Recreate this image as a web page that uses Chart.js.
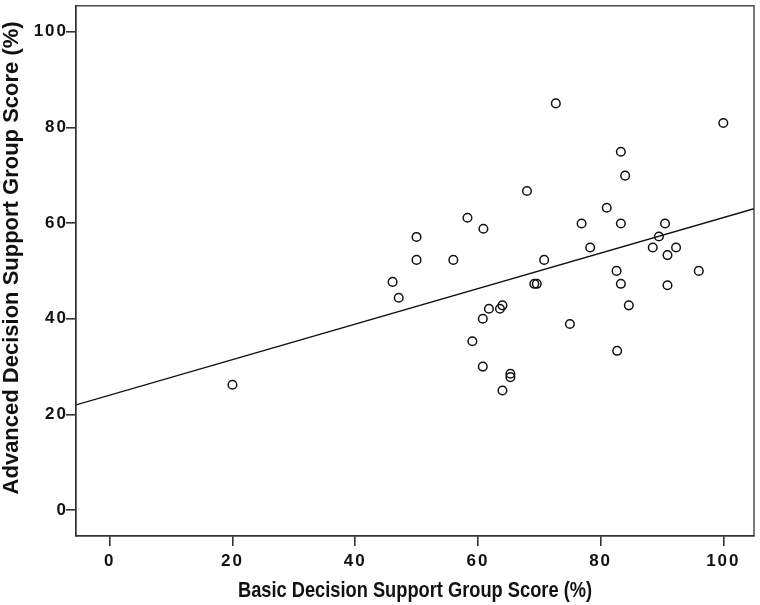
<!DOCTYPE html>
<html>
<head>
<meta charset="utf-8">
<script src="https://cdn.jsdelivr.net/npm/chart.js@4.4.1/dist/chart.umd.min.js"></script>
<style>
  html, body { margin: 0; padding: 0; background: #fff; }
  #wrap { width: 760px; height: 605px; }
</style>
</head>
<body>
<div id="wrap"><canvas id="scoreChart" width="760" height="605"></canvas></div>
<script>
// Basic vs advanced decision support group scores (%)
var basicScore = [20, 46.1, 47.1, 50, 50, 56, 58.3, 60.9, 59.1, 60.8, 60.8, 61.8, 63.6, 64.0,
    64.0, 65.3, 65.3, 68.0, 69.2, 69.6, 70.8, 72.7, 75.0, 76.9, 78.3, 81.0, 82.6, 82.7,
    83.3, 83.3, 83.3, 84.0, 84.6, 88.5, 89.5, 90.5, 90.9, 90.9, 92.3, 96.0, 100];
var advancedScore = [26.2, 47.7, 44.4, 57.1, 52.3, 52.3, 61.1, 58.8, 35.3, 40.0, 30.0, 42.1, 42.1, 42.8,
    25.0, 28.5, 27.8, 66.7, 47.3, 47.3, 52.3, 85.0, 38.9, 59.9, 54.9, 63.2, 50.0, 33.3,
    74.9, 59.9, 47.3, 69.9, 42.8, 54.9, 57.2, 59.9, 53.3, 47.0, 54.9, 50.0, 80.9];

// fit line ends, at the left and right edges of the plot
var fitX = [-5.5, 105];
var fitY = [22.0, 63.0];

var xTicks = [0, 20, 40, 60, 80, 100];
var yTicks = [0, 20, 40, 60, 80, 100];

var puntos = basicScore.map(function (b, i) { return { x: b, y: advancedScore[i] }; });
var recta = fitX.map(function (fx, i) { return { x: fx, y: fitY[i] }; });

// box round the whole plot area
var marco = {
    id: 'marco',
    afterDraw: function (chart) {
        var a = chart.chartArea, ctx = chart.ctx;
        ctx.save();
        ctx.strokeStyle = '#333';
        ctx.lineWidth = 1.3;
        ctx.strokeRect(a.left, a.top, a.right - a.left, a.bottom - a.top);
        ctx.restore();
    }
};

// spaced out tick labels and a squeezed / shifted title, like the original
function retocar(s, sx, dy) {
    if (s._retocado) return;
    s._retocado = true;
    var labels = s.drawLabels, title = s.drawTitle;
    s.drawLabels = function (area) {
        var c = this.ctx;
        c.save();
        c.letterSpacing = '2px';
        labels.call(this, area);
        c.restore();
    };
    s.drawTitle = function () {
        var c = this.ctx, cx = (this.left + this.right) / 2;
        c.save();
        c.translate(cx, dy);
        c.scale(sx, 1);
        c.translate(-cx, 0);
        title.call(this);
        c.restore();
    };
}

var tickFont = { family: "'Liberation Sans', Arial, sans-serif", size: 17, weight: 'bold' };
var titleFont = { family: "'Liberation Sans', Arial, sans-serif", size: 22, weight: 'bold', lineHeight: 1 };

var config = {
    type: 'scatter',
    data: {
        datasets: [{
            type: 'line',
            data: recta,
            borderColor: '#111',
            borderWidth: 1.4,
            pointRadius: 0,
            fill: false
        }, {
            data: puntos,
            pointStyle: 'circle',
            pointRadius: 4.3,
            pointBorderWidth: 1.5,
            borderColor: '#111',
            backgroundColor: 'rgba(255,255,255,0)'
        }]
    },
    options: {
        responsive: false,
        animation: false,
        layout: { padding: { top: 1, right: 6, bottom: 0, left: 0 } },
        plugins: { legend: { display: false }, tooltip: { enabled: false } },
        scales: {
            x: {
                type: 'linear',
                min: -5.5,
                max: 105,
                afterFit: function (s) {
                    s.height = 69;
                    s.paddingLeft = 0; s.paddingRight = 0;
                    retocar(s, 0.83, 0);
                },
                afterBuildTicks: function (s) { s.ticks = xTicks.map(function (v) { return { value: v }; }); },
                border: { display: true, color: '#333', width: 1.3 },
                grid: { drawOnChartArea: false, drawTicks: true, tickLength: 10, tickColor: '#333', lineWidth: 1.6 },
                ticks: { color: '#111', font: tickFont, padding: 5, maxRotation: 0 },
                title: {
                    display: true,
                    text: 'Basic Decision Support Group Score (%)',
                    color: '#111',
                    font: titleFont,
                    padding: { top: 0, bottom: 3 }
                }
            },
            y: {
                type: 'linear',
                min: -5.4,
                max: 105.4,
                afterFit: function (s) {
                    s.width = 76;
                    s.paddingTop = 0; s.paddingBottom = 0;
                    retocar(s, 1, -13);
                },
                afterBuildTicks: function (s) { s.ticks = yTicks.map(function (v) { return { value: v }; }); },
                border: { display: true, color: '#333', width: 1.3 },
                grid: { drawOnChartArea: false, drawTicks: true, tickLength: 10, tickColor: '#333', lineWidth: 1.6 },
                ticks: { color: '#111', font: tickFont, padding: -2 },
                title: {
                    display: true,
                    text: 'Advanced Decision Support Group Score (%)',
                    color: '#111',
                    font: titleFont,
                    padding: { top: 1, bottom: 0 }
                }
            }
        }
    },
    plugins: [marco]
};

var ctx = document.getElementById('scoreChart');
window.myScatter = new Chart(ctx, config);
</script>
</body>
</html>
